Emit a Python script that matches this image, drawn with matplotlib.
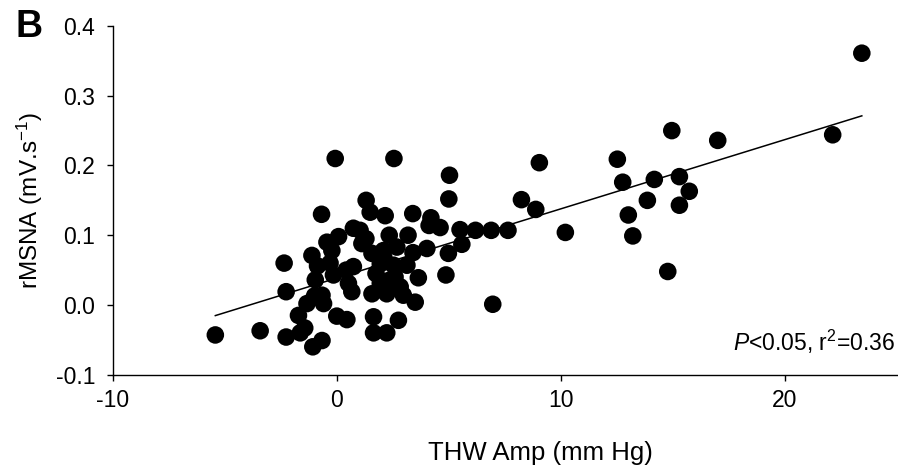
import numpy as np
import matplotlib
matplotlib.use("Agg")
import matplotlib.pyplot as plt

plt.rcParams["font.family"] = ["Liberation Sans", "DejaVu Sans"]
plt.rcParams["mathtext.fontset"] = "custom"
plt.rcParams["mathtext.rm"] = "Liberation Sans"
plt.rcParams["mathtext.it"] = "Liberation Sans:italic"
plt.rcParams["axes.unicode_minus"] = False

# values
thw_amp = [
    -5.42, -3.42, -2.35, -2.26, -2.26, -1.63, -1.07, -0.66, -1.71, -1.33,
    -0.59, -0.96, -0.66, -1.11, -0.86, -0.68, -0.07, 2.55, -0.44, -0.22,
    0.08, -0.15, 0.42, 0.74, 0.74, 1.04, 1.12, 1.57, 1.31, 1.49,
    2.16, 3.39, 4.12, 4.20, 4.61, 2.34, 3.18, 4.02, 2.68, 2.08,
    1.94, 2.53, 3.13, 0.52, 0.67, 1.57, 1.94, 2.31, 2.83, 3.50,
    2.97, 2.23, 0.00, 0.45, 1.64, 2.75, 1.64, 2.23, 3.64, 4.87,
    4.98, 5.58, 5.50, 6.19, 6.89, 7.64, 5.03, 5.00, 8.24, 8.88,
    9.04, 10.20, 6.96, 12.52, 12.76, 13.01, 13.21, 13.86, 14.17, 14.95,
    15.29, 15.73, 15.29, 14.77, 17.00, 22.13, 23.43, -1.43, -0.99, 1.30,
    2.10, 1.75, -0.30, 3.40, 2.60,
]
rmsna = [
    -0.043, -0.037, 0.060, 0.019, -0.046, -0.040, -0.060, -0.051, -0.015, 0.002,
    0.002, 0.036, 0.014, 0.071, 0.056, 0.130, 0.210, 0.210, 0.090, 0.078,
    0.098, 0.043, 0.050, 0.055, 0.110, 0.107, 0.088, 0.074, 0.150, 0.133,
    0.128, 0.131, 0.114, 0.125, 0.111, 0.100, 0.100, 0.081, 0.083, 0.078,
    0.059, 0.057, 0.057, 0.031, 0.019, 0.016, 0.031, 0.035, 0.026, 0.004,
    0.014, 0.016, -0.016, -0.021, -0.017, -0.022, -0.040, -0.040, 0.039, 0.043,
    0.074, 0.087, 0.108, 0.107, 0.107, 0.107, 0.186, 0.152, 0.151, 0.137,
    0.204, 0.104, 0.001, 0.209, 0.176, 0.129, 0.099, 0.150, 0.180, 0.250,
    0.184, 0.163, 0.143, 0.048, 0.236, 0.244, 0.361, -0.033, 0.013, 0.095,
    0.068, 0.045, 0.060, 0.075, 0.040,
]
stats_text = r"$\mathit{P}$<0.05, r$^{2}$=0.36"

x = np.array(thw_amp)
y = np.array(rmsna)
slope, intercept = np.polyfit(x, y, 1)
xfit = np.array([x.min(), x.max()])

fig = plt.figure(figsize=(8.98, 4.74), dpi=100)
ax = fig.add_axes([112.7 / 898, 1 - 374.7 / 474, (897 - 112.7) / 898, (374.7 - 26) / 474])

ax.plot(xfit, slope * xfit + intercept, color="black", linewidth=1.1, zorder=2)
ax.scatter(x, y, s=160, color="black", edgecolors="none", zorder=3, clip_on=False)

ax.set_xlim(-10, 25)
ax.set_ylim(-0.1, 0.4)
ax.set_xticks([-10, 0, 10, 20])
ax.set_yticks([-0.1, 0.0, 0.1, 0.2, 0.3, 0.4])
ax.set_yticklabels([f"{v:.1f}" for v in [-0.1, 0.0, 0.1, 0.2, 0.3, 0.4]])
ax.tick_params(direction="out", length=4.5, width=1, labelsize=16.5)
ax.tick_params(axis="y", pad=8)
ax.tick_params(axis="x", pad=6)

for side in ["top", "right"]:
    ax.spines[side].set_visible(False)
for side in ["left", "bottom"]:
    ax.spines[side].set_linewidth(1)

ax.set_xlabel("THW Amp (mm Hg)", fontsize=18.5)
ax.xaxis.set_label_coords(0.545, -0.19)
ax.set_ylabel(r"rMSNA (mV.s$^{-1}$)", fontsize=17.5, labelpad=8)

ax.text(0.997, 0.055, stats_text, transform=ax.transAxes, ha="right", va="bottom", fontsize=16.5)
fig.text(29 / 898, 1 - 27 / 474, "B", fontsize=27, fontweight="bold", ha="center", va="center")

fig.savefig("out.png", dpi=100)
